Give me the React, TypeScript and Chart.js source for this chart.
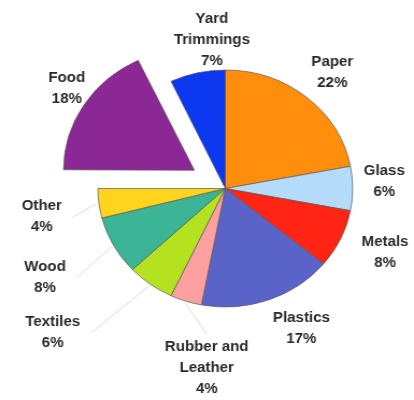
import { useEffect, useRef } from 'react';
import { Chart, registerables } from 'chart.js';

Chart.register(...registerables);

// ---- data ----
const categories = ['Paper', 'Glass', 'Metals', 'Plastics', 'Rubber and Leather', 'Textiles', 'Wood', 'Other', 'Food', 'Yard Trimmings'];
const labelLines = [['Paper'], ['Glass'], ['Metals'], ['Plastics'], ['Rubber and', 'Leather'], ['Textiles'], ['Wood'], ['Other'], ['Food'], ['Yard', 'Trimmings']];
const shares = [22, 6, 8, 17, 4, 6, 8, 4, 18, 7];

// ---- style / layout ----
const colors = ['#FF8E0C', '#B4DCFA', '#FF2414', '#5A64C8', '#FFA0A0', '#B4E21E', '#3CB496', '#FFD41E', '#8C2896', '#0C38F0'];
const explode = [0, 0, 0, 0, 0, 0, 0, 0, 136, 0];
const labelDist = [153, 148, 162, 157, 180, 216, 190, 173, 178, 149];
const labelShift = [1, -2.5, -1.7, -7, -12.5, 12, 0.7, -2.3, 1.7, 7.8];
const leader: (string | null)[] = [null, null, null, null, 'top', 'right', 'right', 'right', null, null];
const LH = 21;

const labelPlugin = {
  id: 'outerLabels',
  afterDatasetsDraw(chart: any) {
    const ctx = chart.ctx;
    const meta = chart.getDatasetMeta(0);
    ctx.save();
    ctx.font = 'bold 14px "Liberation Sans", Arial, sans-serif';
    ctx.textAlign = 'center';
    ctx.textBaseline = 'middle';
    meta.data.forEach((arc: any, i: number) => {
      const { x, y, startAngle, endAngle, outerRadius } = arc.getProps(['x', 'y', 'startAngle', 'endAngle', 'outerRadius'], true);
      const mid = (startAngle + endAngle) / 2;
      const a = mid + (labelShift[i] * Math.PI) / 180;
      const cx = x + Math.cos(a) * labelDist[i];
      const cy = y + Math.sin(a) * labelDist[i];
      const lines = [...labelLines[i], shares[i] + '%'];
      const top = cy - ((lines.length - 1) * LH) / 2;
      ctx.fillStyle = '#2a2a2a';
      lines.forEach((t, k) => ctx.fillText(t, cx, top + k * LH));
      if (leader[i]) {
        const ex = x + Math.cos(mid) * (outerRadius + 2);
        const ey = y + Math.sin(mid) * (outerRadius + 2);
        let sx: number, sy: number;
        if (leader[i] === 'right') {
          const w = Math.max(...lines.map((t) => ctx.measureText(t).width));
          sx = cx + w / 2 + 10;
          sy = cy;
        } else {
          sx = cx;
          sy = top - LH / 2 - 2;
        }
        ctx.strokeStyle = '#d4dae6';
        ctx.lineWidth = 1;
        ctx.beginPath();
        ctx.moveTo(sx, sy);
        ctx.lineTo(ex, ey);
        ctx.stroke();
      }
    });
    ctx.restore();
  },
};

export default function App() {
  const ref = useRef<HTMLCanvasElement | null>(null);
  useEffect(() => {
    if (!ref.current) return;
    const chart = new Chart(ref.current, {
      type: 'pie',
      data: {
        labels: categories,
        datasets: [
          {
            data: shares,
            backgroundColor: colors,
            borderColor: 'rgba(90,90,90,0.7)',
            borderWidth: 1,
            offset: explode,
          },
        ],
      },
      options: {
        responsive: false,
        devicePixelRatio: 1,
        animation: false,
        radius: 118.5,
        layout: { padding: { left: 34, right: 0, top: 0, bottom: 23 } },
        plugins: { legend: { display: false }, tooltip: { enabled: false } },
        events: [],
      } as any,
      plugins: [labelPlugin],
    });
    return () => chart.destroy();
  }, []);
  return (
    <div style={{ position: 'absolute', left: 0, top: 0, width: 414, height: 400, background: '#fff' }}>
      <canvas ref={ref} width={385} height={400} style={{ width: '414px', height: '400px', display: 'block' }} />
    </div>
  );
}
